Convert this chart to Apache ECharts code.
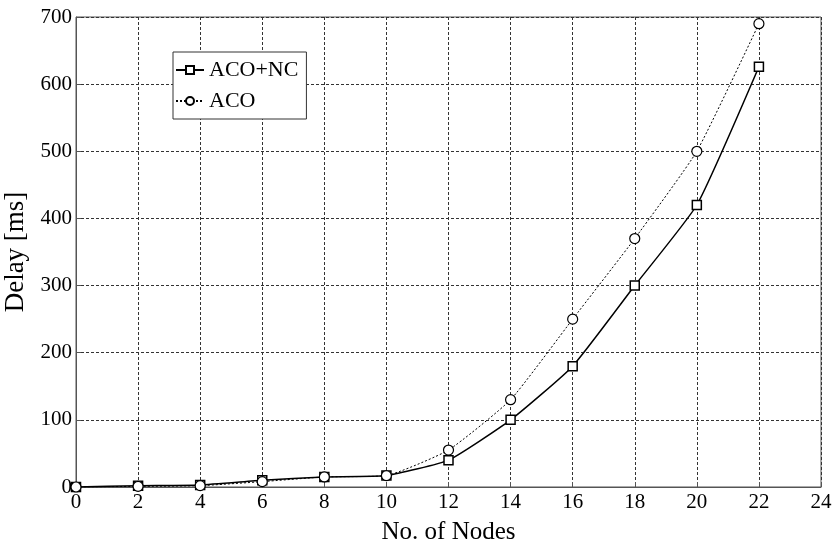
<!DOCTYPE html>
<html>
<head>
<meta charset="utf-8">
<script src="https://cdn.jsdelivr.net/npm/echarts@6/dist/echarts.min.js"></script>
<style>
  html, body { margin: 0; padding: 0; background: #fff; }
  #chart { width: 834px; height: 547px; }
</style>
</head>
<body>
<div id="chart"></div>
<script>
const nodes = [0, 2, 4, 6, 8, 10, 12, 14, 16, 18, 20, 22]
const acoNc = [0, 2, 3, 10, 15, 17, 40, 100, 180, 300, 420, 626]
const aco = [0, 1, 2, 8, 15, 17, 55, 130, 250, 370, 500, 690]

const font = 'Liberation Serif'
const pairs = (ys) => nodes.map((x, i) => [x, ys[i]])

const chart = echarts.init(document.getElementById('chart'), null, { renderer: 'canvas' })

chart.setOption({
  animation: false,
  grid: {
    left: 76, right: 13, top: 17, bottom: 60,
    containLabel: false, outerBoundsMode: 'none',
    show: true, borderColor: '#555', borderWidth: 1
  },
  legend: {
    orient: 'vertical',
    left: 173, top: 52,
    padding: [7, 8, 7, 2],
    itemGap: 9,
    itemWidth: 28,
    itemHeight: 10,
    backgroundColor: '#fff',
    borderColor: '#333',
    borderWidth: 1,
    textStyle: { fontFamily: font, fontSize: 22, color: '#000' },
    data: ['ACO+NC', 'ACO']
  },
  xAxis: {
    type: 'value', min: 0, max: 24, interval: 2,
    name: 'No. of Nodes', nameLocation: 'middle', nameGap: 33,
    nameTextStyle: { fontFamily: font, fontSize: 25, color: '#000' },
    axisLine: { lineStyle: { color: '#555' } },
    axisTick: { inside: true, length: 5, lineStyle: { color: '#555' } },
    axisLabel: { fontFamily: font, fontSize: 21, color: '#000', margin: 5 },
    splitLine: { lineStyle: { type: [3, 2], color: '#333' } }
  },
  yAxis: {
    type: 'value', min: 0, max: 700, interval: 100,
    name: 'Delay [ms]', nameLocation: 'middle', nameGap: 45,
    nameTextStyle: { fontFamily: font, fontSize: 27, color: '#000' },
    axisLine: { show: true, lineStyle: { color: '#555' } },
    axisTick: { show: true, inside: true, length: 5, lineStyle: { color: '#555' } },
    axisLabel: { fontFamily: font, fontSize: 21, color: '#000', margin: 4 },
    splitLine: { lineStyle: { type: [3, 2], color: '#333' } }
  },
  series: [
    {
      name: 'ACO+NC', type: 'line', data: pairs(acoNc), smooth: 0.15,
      symbol: 'rect', symbolSize: 9,
      lineStyle: { color: '#000', width: 1.5 },
      itemStyle: { color: '#fff', borderColor: '#000', borderWidth: 1.5 }
    },
    {
      name: 'ACO', type: 'line', data: pairs(aco), smooth: 0.15,
      symbol: 'circle', symbolSize: 10,
      lineStyle: { color: '#000', width: 1, type: [2, 2] },
      itemStyle: { color: '#fff', borderColor: '#000', borderWidth: 1.2 }
    }
  ]
})
</script>
</body>
</html>
